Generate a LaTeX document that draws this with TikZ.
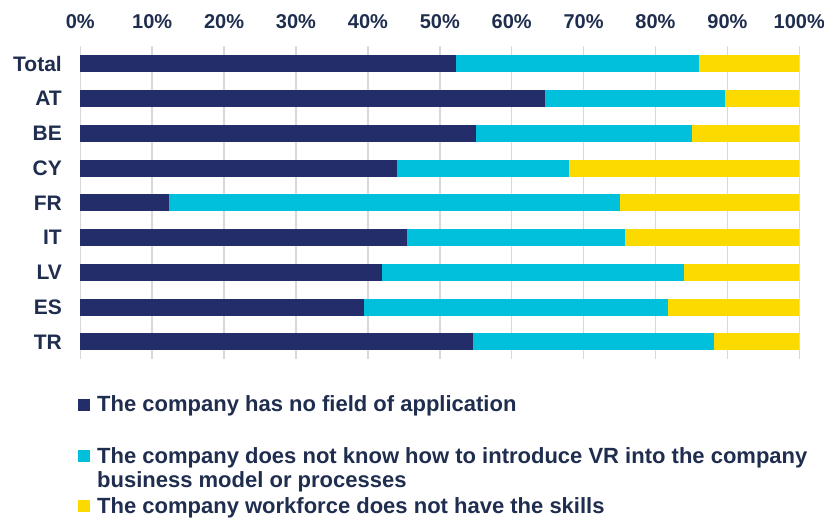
\documentclass[tikz,border=0pt]{standalone}
\usepackage{fontspec}
\setmainfont{Liberation Sans}
\usetikzlibrary{positioning}
\definecolor{barnavy}{HTML}{232D69}
\definecolor{barcyan}{HTML}{00C0DC}
\definecolor{baryellow}{HTML}{FCDA00}
\definecolor{labelnavy}{HTML}{1F2D4F}
\definecolor{gridgray}{HTML}{D9D9D9}

\begin{document}
\begin{tikzpicture}[x=1pt,y=-1pt]
\useasboundingbox (0,0) rectangle (824,523);
\tikzstyle{axis} = [font=\fontsize{20}{24}\selectfont\bfseries, text=labelnavy, inner sep=0pt]
\tikzstyle{country} = [font=\fontsize{21}{24}\selectfont\bfseries, text=labelnavy, anchor=east, inner sep=0pt]
\tikzstyle{keytext} = [font=\fontsize{22}{24}\selectfont\bfseries, text=labelnavy, anchor=north west, inner sep=0pt, align=left]
\tikzstyle{keybox} = [inner sep=0pt, minimum size=12pt, anchor=south west]
% grid and scale
\foreach \p in {0,...,10}{
  \pgfmathtruncatemacro\v{10*\p}
  \draw[gridgray, line width=1.5pt] ({80.3+71.9*\p},46) -- ({80.3+71.9*\p},359);
  \node[axis] (tick\p) at ({80.3+71.9*\p},21.8) {\v\%};
}
% bars: name / row / first / second
\foreach \c/\i/\a/\b in {Total/0/52.3/86.0, AT/1/64.6/89.6, BE/2/55.0/85.1,
    CY/3/44.0/68.0, FR/4/12.4/75.0, IT/5/45.4/75.8, LV/6/42.0/83.9,
    ES/7/39.4/81.8, TR/8/54.6/88.1}{
  \pgfmathsetmacro\y{63.7+34.78*\i}
  \fill[barnavy] (80.3,\y-8.5) rectangle ({80.3+7.19*\a},\y+8.5);
  \fill[barcyan] ({80.3+7.19*\a},\y-8.5) rectangle ({80.3+7.19*\b},\y+8.5);
  \fill[baryellow] ({80.3+7.19*\b},\y-8.5) rectangle (799.3,\y+8.5);
  \node[country] (row\c) at (62,\y) {\c};
}
% legend
\draw
(97,395.7) node [keytext] (key1) {The company has no field of application}
(97,447.3) node [keytext] (key2) {The company does not know how to introduce VR into the company\\business model or processes}
(97,497.3) node [keytext] (key3) {The company workforce does not have the skills}
(77.5,410.7) node [keybox, fill=barnavy] (box1) {}
(77.5,462.3) node [keybox, fill=barcyan] (box2) {}
(77.5,512.3) node [keybox, fill=baryellow] (box3) {};
\end{tikzpicture}
\end{document}
